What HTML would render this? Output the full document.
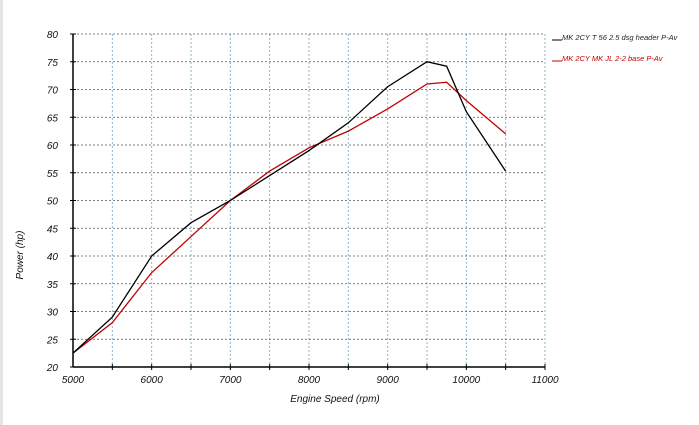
<!DOCTYPE html>
<html><head><style>
html,body{margin:0;padding:0;background:#fff;}
svg{display:block;font-family:"Liberation Sans",sans-serif;}
</style></head><body>
<svg width="699" height="425" viewBox="0 0 699 425">
<rect x="0" y="0" width="699" height="425" fill="#fff"/>
<rect x="0" y="0" width="3" height="425" fill="#e4e4e4"/>
<g id="grid"></g><g id="axes"></g><g id="series"></g>
<text x="335" y="402" font-size="10" font-style="italic" text-anchor="middle" fill="#111">Engine Speed (rpm)</text>
<text transform="translate(23,255) rotate(-90)" font-size="10" font-style="italic" text-anchor="middle" fill="#111">Power (hp)</text>
<g>
<g><line x1="552" y1="40" x2="562" y2="40" stroke="#000"/><text x="562" y="40" font-size="7.5" font-style="italic" fill="#222">MK 2CY T 56 2.5 dsg header  P-Av</text></g>
<g><line x1="552" y1="61" x2="562" y2="61" stroke="#c00000"/><text x="562" y="61" font-size="7.5" font-style="italic" fill="#c00000">MK 2CY MK JL 2-2 base  P-Av</text></g>
</g>
</svg>
<script>
const rpm=[5000,5500,6000,6500,7000,7500,8000,8500,9000,9500,9750,10000,10500];
const blackPower=[22.5,29,40,46,50,54.5,59,64,70.5,75,74.2,66,55.3];
const redPower=[22.5,28,37,43.5,50,55.3,59.5,62.5,66.5,71,71.3,68,62];
const xTicks=[5000,6000,7000,8000,9000,10000,11000];
const yTicks=[20,25,30,35,40,45,50,55,60,65,70,75,80];
const NS="http://www.w3.org/2000/svg";
const X=v=>73+(v-5000)/6000*472;
const Y=v=>367-(v-20)/60*333;
function mk(t,a,p){const e=document.createElementNS(NS,t);for(const k in a)e.setAttribute(k,a[k]);p.appendChild(e);return e;}
const grid=document.getElementById('grid'),axes=document.getElementById('axes'),ser=document.getElementById('series');
for(let v=5500;v<=11000;v+=500){const l=mk('line',{x1:X(v),y1:Y(80),x2:X(v),y2:Y(20),stroke:'#8fb3c8','stroke-dasharray':'2,2','stroke-width':1},grid);


mk('line',{x1:X(v),y1:Y(20)-3,x2:X(v),y2:Y(20)+3,stroke:'#000'},axes);}
yTicks.forEach(v=>{if(v>20){const l=mk('line',{x1:X(5000),y1:Y(v),x2:X(11000),y2:Y(v),stroke:'#555','stroke-dasharray':'2,2','stroke-width':0.8},grid);

}
mk('line',{x1:X(5000)-3,y1:Y(v),x2:X(5000)+3,y2:Y(v),stroke:'#000'},axes);
const t=mk('text',{x:58,y:Y(v)+4,'font-size':10,'font-style':'italic','text-anchor':'end',fill:'#111'},axes);t.textContent=v;

});
xTicks.forEach(v=>{const t=mk('text',{x:X(v),y:383,'font-size':10,'font-style':'italic','text-anchor':'middle',fill:'#111'},axes);t.textContent=v;

});
const ya=mk('line',{x1:X(5000),y1:Y(80),x2:X(5000),y2:Y(20),stroke:'#000','stroke-width':1.5},axes);


const xa=mk('line',{x1:X(5000),y1:Y(20),x2:X(11000),y2:Y(20),stroke:'#000','stroke-width':1.5},axes);


function line(vals,c,n){const p=mk('polyline',{points:rpm.map((r,i)=>X(r)+','+Y(vals[i])).join(' '),fill:'none',stroke:c,'stroke-width':1.3},ser);

}
line(redPower,'#c00000','red-series-line');
line(blackPower,'#000','black-series-line');
</script>
</body></html>
